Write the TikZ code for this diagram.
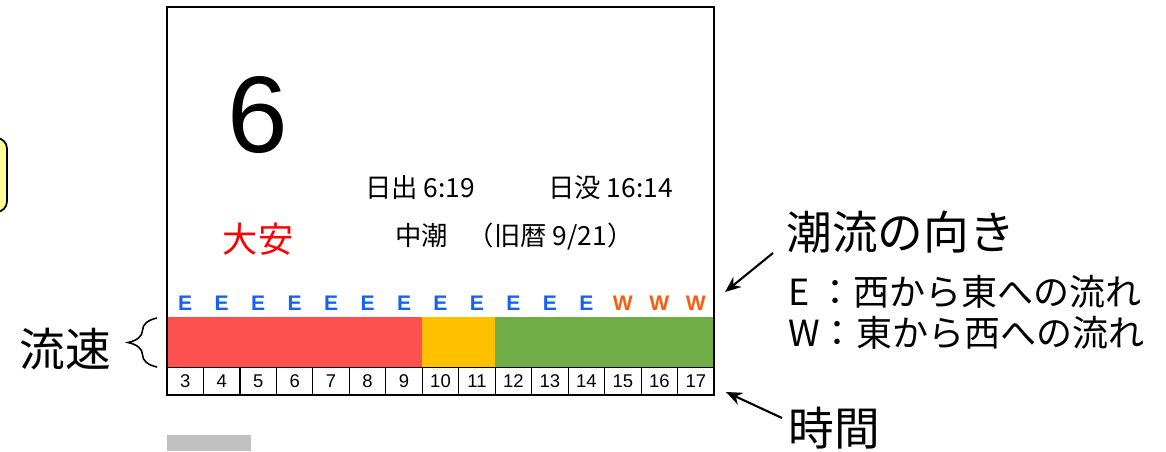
\documentclass[tikz,border=0pt]{standalone}
\usepackage{fontspec}
\setmainfont{Liberation Sans}
\newfontfamily\jp{Noto Sans CJK JP}
\usepackage{xcolor}
\definecolor{pale-yellow}{HTML}{FFFF99}
\definecolor{flow-red}{HTML}{FF5050}
\definecolor{flow-orange}{HTML}{FFC000}
\definecolor{flow-green}{HTML}{70AD47}
\definecolor{dir-east}{HTML}{1560F5}
\definecolor{dir-west}{HTML}{FF5A0F}
\definecolor{bar-gray}{HTML}{C0C0C0}
\usetikzlibrary{arrows.meta}
\usetikzlibrary{decorations.pathreplacing}
\tikzset{cell/.style = {draw, line width=0.5pt, minimum width=0.7293cm, minimum height=0.56cm, inner sep=0pt, font=\fontsize{10.5}{12}\selectfont}}
\tikzset{dir/.style = {inner sep=0pt, font=\fontsize{12}{14}\selectfont\bfseries}}
\tikzset{info/.style = {inner sep=0pt, anchor=west, font=\jp\fontsize{15}{17}\selectfont}}
\tikzset{note/.style = {inner sep=0pt, anchor=west, font=\jp\fontsize{20.5}{24}\selectfont}}
\tikzset{big/.style = {inner sep=0pt, font=\jp\fontsize{26}{30}\selectfont}}
\tikzset{arr/.style = {line width=1.2pt, -{Stealth[length=0.32cm, width=0.26cm]}}}

\begin{document}
\begin{tikzpicture}[x=0.02cm, y=-0.02cm]
\useasboundingbox (0,0) rectangle (1166,451);

% memo box cut by the left edge
\node[draw, line width=1pt, rounded corners=6pt, fill=pale-yellow, minimum width=1.0cm, minimum height=1.48cm] (memo) at (-18,175) {};

% flow speed bar
\fill[flow-red] (167,317) rectangle (422.3,367);
\fill[flow-orange] (422.3,317) rectangle (495.3,367);
\fill[flow-green] (495.3,317) rectangle (714,367);

% hours
\foreach \h [count=\i from 0] in {3,...,17}
  \node[cell] (h\h) at ({167+36.467*(\i+0.5)}, 381) {\h};

% directions
\foreach \i in {0,...,11}
  \node[dir, text=dir-east] (d\i) at ({167+36.467*(\i+0.5)}, 303) {E};
\foreach \i in {12,13,14}
  \node[dir, text=dir-west] (d\i) at ({167+36.467*(\i+0.5)}, 303) {W};

\draw[line width=1.2pt] (167,7) rectangle (714,395);

\node[inner sep=0pt, font=\fontsize{62}{70}\selectfont] (day) at (258,115) {6};
\node[inner sep=0pt, text=red, font=\jp\fontsize{20}{24}\selectfont] (luck) at (258,239) {大安};
\node[info] (rise) at (365,188) {日出 6:19};
\node[info] (set) at (548,188) {日没 16:14};
\node[info] (tide) at (395,237) {中潮\hspace{0.75em}（旧暦 9/21）};

\fill[bar-gray] (167,435) rectangle (251,451);

% labels round the panel
\node[big] (speed) at (65,349) {流速};
\coordinate (s0) at (157,367);
\coordinate (s1) at (157,318);
\draw[line width=0.9pt, decorate, decoration={brace, amplitude=0.58cm}] (s0) -- (s1);

\node[big, anchor=west] (flow) at (786,232) {潮流の向き};
\node[note] (east) at (788,292) {E ：西から東への流れ};
\node[note] (west) at (788,333) {W：東から西への流れ};
\node[big, anchor=west] (hour) at (788,428) {時間};

\coordinate (a0) at (773,253);
\coordinate (a1) at (725,292);
\coordinate (b0) at (782,418);
\coordinate (b1) at (726,392);
\draw[arr] (a0) -- (a1);
\draw[arr] (b0) -- (b1);

\end{tikzpicture}
\end{document}
